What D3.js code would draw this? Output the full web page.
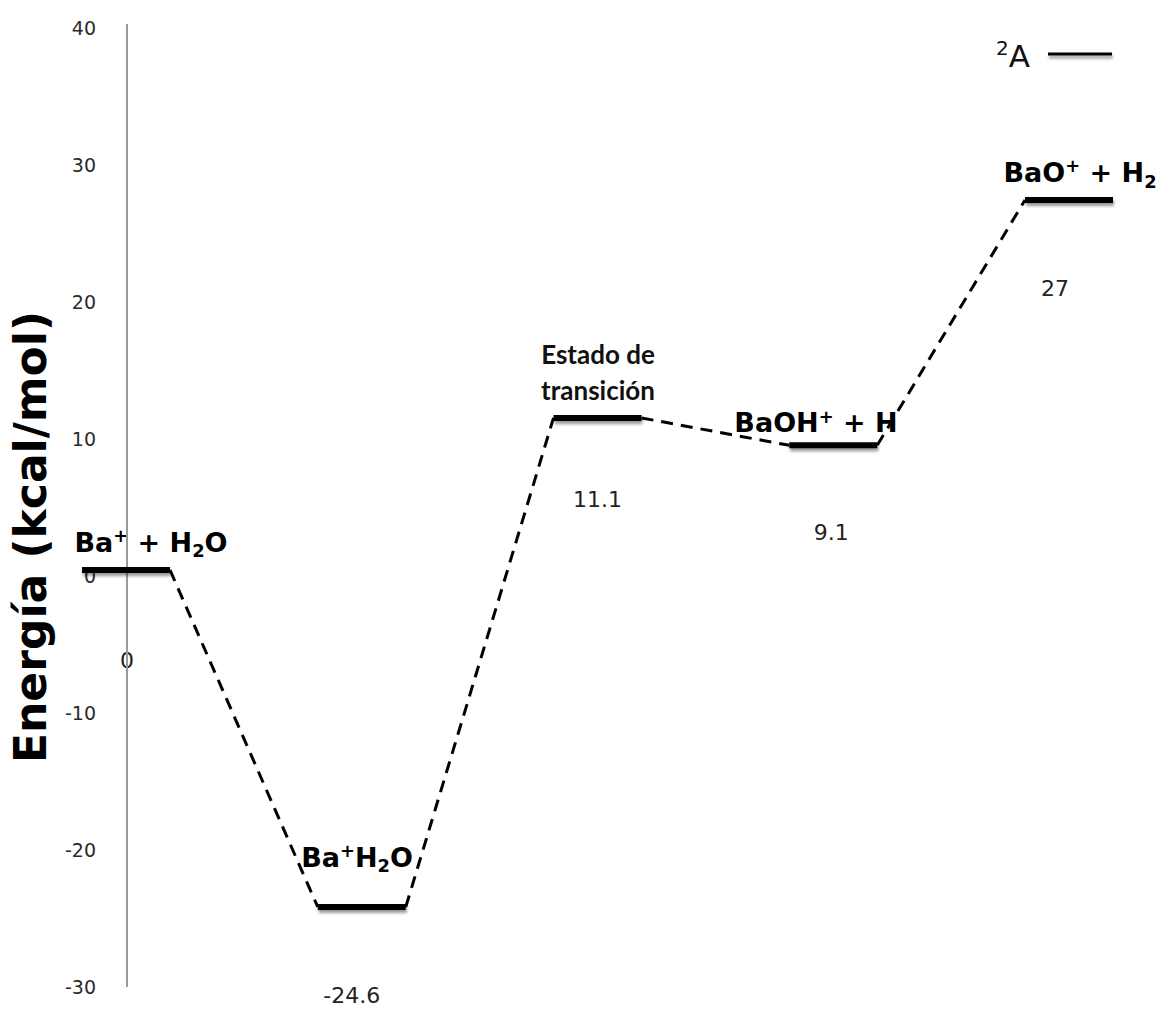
<!DOCTYPE html>
<html><head><meta charset="utf-8">
<script src="https://cdn.jsdelivr.net/npm/d3@7"></script>
<style>body{margin:0;background:#fff}</style>
</head><body>
<svg id="c" width="1172" height="1009"></svg>
<script>
const categories = ["Ba+ + H2O", "Ba+H2O", "TS", "BaOH+ + H", "BaO+ + H2"];
const energies = [0, -24.6, 11.1, 9.1, 27];
const valueLabels = ["0", "-24.6", "11.1", "9.1", "27"];
const nameLabels = [
  [["Ba", ""], ["+", "sup"], [" + H", ""], ["2", "sub"], ["O", ""]],
  [["Ba", ""], ["+", "sup"], ["H", ""], ["2", "sub"], ["O", ""]],
  null,
  [["BaOH", ""], ["+", "sup"], [" + H", ""]],
  [["BaO", ""], ["+", "sup"], [" + H", ""], ["2", "sub"]]
];
const tsLines = ["Estado de", "transición"];
const yTicks = [40, 30, 20, 10, 0, -10, -20, -30];
const yTitle = "Energía (kcal/mol)";
const legendLabel = "A";
const legendSup = "2";

const svg = d3.select("#c");
const y = d3.scaleLinear().domain([-30, 40]).range([987, 28]);
const x = d3.scalePoint().domain(categories).range([126, 1069]);
const half = 44, lvlOff = -6;

const defs = svg.append("defs");
const f = defs.append("filter").attr("id", "sh").attr("filterUnits", "userSpaceOnUse")
  .attr("x", 0).attr("y", 0).attr("width", 1172).attr("height", 1009);
f.append("feDropShadow").attr("dx", 1).attr("dy", 3).attr("stdDeviation", 1.6)
  .attr("flood-color", "#000").attr("flood-opacity", 0.4);

// axis tick labels
const axis = d3.axisLeft(y).tickValues(yTicks).tickSize(0).tickPadding(0).tickFormat(d => String(d));
const ag = svg.append("g").attr("transform", "translate(127,0)").call(axis);
ag.select(".domain").remove();
ag.selectAll(".tick text").attr("x", -31).attr("dy", "0.36em")
  .attr("font-family", "DejaVu Sans").attr("font-size", 19).attr("fill", "#2a2a2a");

// y title
svg.append("text").attr("transform", "translate(46,537) rotate(-90)").attr("text-anchor", "middle")
  .attr("font-family", "DejaVu Sans").attr("font-weight", "bold").attr("font-size", 44)
  .attr("fill", "#000").text(yTitle);

// connectors
for (let i = 0; i < categories.length - 1; i++) {
  svg.append("line")
    .attr("x1", x(categories[i]) + half).attr("y1", y(energies[i]) + lvlOff)
    .attr("x2", x(categories[i + 1]) - half).attr("y2", y(energies[i + 1]) + lvlOff)
    .attr("stroke", "#000").attr("stroke-width", 3).attr("stroke-dasharray", "12,8");
}

// value labels
const valDx = [1, -10, 0, -2, -14];
const valDy = [92, 90, 83, 89, 90];
categories.forEach((c, i) => {
  svg.append("text").attr("x", x(c) + valDx[i]).attr("y", y(energies[i]) + valDy[i])
    .attr("text-anchor", "middle").attr("font-family", "DejaVu Sans").attr("font-size", 22).attr("fill", "#222")
    .text(valueLabels[i]);
});

// name labels
const nameX = [151, 357, 598, 816, 1080];
const nameDy = [-18, -40, 0, -13, -18];
function rich(sel, parts, size) {
  let cur = 0;
  parts.forEach(([t, k]) => {
    const target = k === "sup" ? -size * 0.36 : k === "sub" ? size * 0.2 : 0;
    const ts = sel.append("tspan").text(t).attr("dy", target - cur);
    if (k) ts.attr("font-size", size * 0.66);
    cur = target;
  });
}
categories.forEach((c, i) => {
  if (!nameLabels[i]) return;
  const t = svg.append("text").attr("x", nameX[i]).attr("y", y(energies[i]) + lvlOff + nameDy[i])
    .attr("text-anchor", "middle").attr("font-family", "DejaVu Sans").attr("font-weight", "bold")
    .attr("font-size", 27).attr("fill", "#000");
  rich(t, nameLabels[i], 27);
});
tsLines.forEach((l, j) => {
  svg.append("text").attr("x", nameX[2]).attr("y", y(energies[2]) + lvlOff - 54 + j * 36)
    .attr("text-anchor", "middle").attr("font-family", "Lato").attr("font-weight", "bold")
    .attr("font-size", 26).attr("fill", "#111").text(l);
});

// axis line (drawn over labels, under levels)
svg.append("line").attr("x1", 127).attr("x2", 127).attr("y1", y(40) - 4).attr("y2", y(-30))
  .attr("stroke", "#9a9a9a").attr("stroke-width", 2);

// levels
categories.forEach((c, i) => {
  svg.append("line")
    .attr("x1", x(c) - half).attr("x2", x(c) + half)
    .attr("y1", y(energies[i]) + lvlOff).attr("y2", y(energies[i]) + lvlOff)
    .attr("stroke", "#000").attr("stroke-width", 6).attr("filter", "url(#sh)");
});

// legend
const lg = svg.append("text").attr("x", 1030).attr("y", 67).attr("text-anchor", "end")
  .attr("font-family", "DejaVu Sans").attr("font-size", 31).attr("fill", "#111");
lg.append("tspan").attr("font-size", 20).attr("dy", -12).text(legendSup);
lg.append("tspan").attr("dy", 12).text(legendLabel);
svg.append("line").attr("x1", 1048).attr("x2", 1112).attr("y1", 54).attr("y2", 54)
  .attr("stroke", "#000").attr("stroke-width", 3).attr("filter", "url(#sh)");
</script>
</body></html>
